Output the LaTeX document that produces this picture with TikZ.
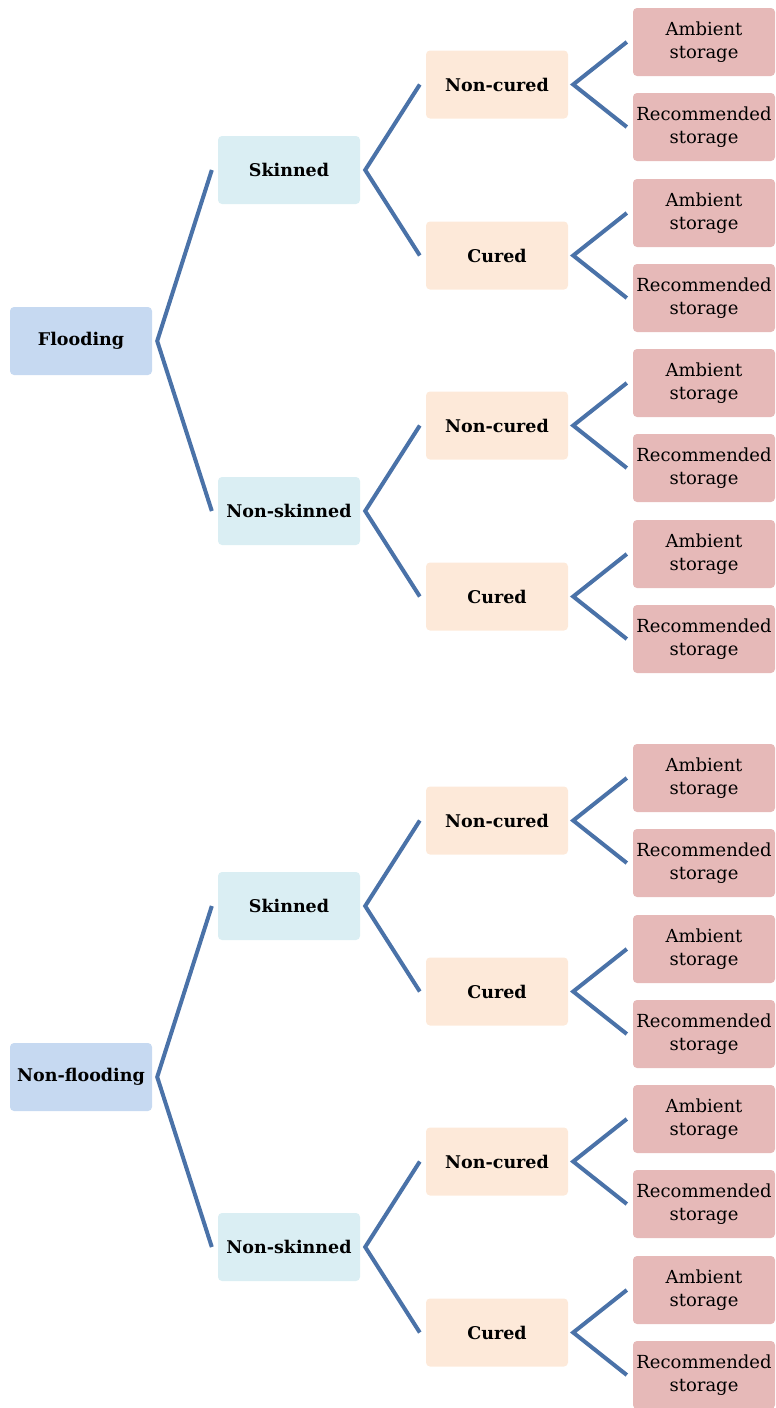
\documentclass[tikz,border=0pt]{standalone}
\usepackage{fontspec}
\setmainfont{DejaVu Serif}
\definecolor{linkblue}{HTML}{4A72A8}
\definecolor{rootfill}{HTML}{C6D9F1}
\definecolor{skinfill}{HTML}{DAEEF3}
\definecolor{curefill}{HTML}{FDE9D9}
\definecolor{storefill}{HTML}{E6B9B8}
\begin{document}
\begin{tikzpicture}[x=1pt,y=-1pt,
	box/.style={rounded corners=4pt,minimum width=142pt,minimum height=68pt,inner sep=0pt,align=center,font=\fontsize{17.5}{21}\selectfont\bfseries},
	rootbox/.style={box,fill=rootfill},
	skinbox/.style={box,fill=skinfill},
	curebox/.style={box,fill=curefill},
	storebox/.style={box,fill=storefill,font=\fontsize{18}{23.5}\selectfont},
	link/.style={draw=linkblue,line width=4pt}]
		\useasboundingbox(0,0)rectangle(776,1408);
		\foreach \r/\rname/\ry in {1/Flooding/341,2/Non-flooding/1077}{
			\node[rootbox](r\r)at(81,\ry){\rname};
			\foreach \s/\sname/\sdy in {1/Skinned/-171,2/Non-skinned/170}{
				\node[skinbox](s\r\s)at(289,\ry+\sdy){\sname};
				\foreach \c/\cname/\cdy in {1/Non-cured/-85.5,2/Cured/85.5}{
					\node[curebox](c\r\s\c)at(497,\ry+\sdy+\cdy){\cname};
					\foreach \t/\tname/\tdy in {1/{Ambient\\storage}/-42.5,2/{Recommended\\storage}/42.5}{
						\node[storebox](t\r\s\c\t)at(704,\ry+\sdy+\cdy+\tdy){\tname};
					}
					\draw[link]([xshift=-6pt]t\r\s\c1.west)--([xshift=5pt]c\r\s\c.east)--([xshift=-6pt]t\r\s\c2.west);
				}
				\draw[link]([xshift=-6pt]c\r\s1.west)--([xshift=5pt]s\r\s.east)--([xshift=-6pt]c\r\s2.west);
			}
			\draw[link]([xshift=-6pt]s\r1.west)--([xshift=5pt]r\r.east)--([xshift=-6pt]s\r2.west);
		}
	\end{tikzpicture}
\end{document}
